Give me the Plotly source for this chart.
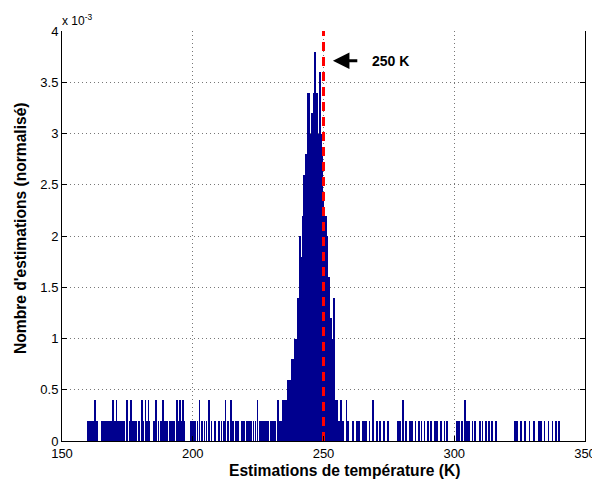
import plotly.graph_objects as go

# ---- data (y values in units of 1e-3, as displayed on the axis) ----
tail_low_x = [160.0, 160.5, 161.0, 161.6, 162.2, 162.8, 163.3,
              165.4, 165.9, 166.5, 167.0, 167.6, 168.3, 168.9, 170.2, 171.5, 172.3, 173.0, 173.8,
              176.1, 176.8, 177.6, 178.4, 179.3, 181.0, 182.5, 183.5,
              185.3, 186.9, 188.0, 189.4, 190.3, 191.2, 192.0, 192.9,
              194.4, 196.0, 196.8, 199.3, 200.1, 201.0, 201.8,
              203.4, 204.5, 205.3, 207.2, 208.4, 210.1, 211.0, 212.0, 213.4, 215.3, 216.5, 217.4,
              218.7, 219.6, 220.8, 221.6, 222.4, 223.2, 224.0, 225.6, 226.5, 227.3, 228.0,
              228.9, 229.8, 230.7, 231.5, 233.2,
              256.0, 257.6, 259.5, 261.3, 262.8, 263.6, 264.9, 265.5, 266.3, 267.6,
              270.4, 271.7, 273.0, 274.8, 278.4, 279.2, 281.5, 283.0, 283.8, 285.2, 286.4,
              287.5, 288.6, 290.0, 291.2, 292.6, 293.5, 295.0, 296.3, 297.1,
              301.0, 301.8, 302.9, 304.9, 305.7, 307.0, 308.0, 309.7, 310.8, 312.0, 313.2,
              314.5, 316.0, 323.2, 323.9, 325.6, 327.0, 328.8, 330.5, 332.4, 333.3, 334.5,
              336.0, 337.6, 339.0, 340.2]
tail_low_y = [0.2] * len(tail_low_x)

tail_high_x = [162.5, 169.4, 170.8, 174.8, 176.5, 180.5, 181.9, 183.1, 186.0, 188.6,
               193.9, 195.1, 196.4, 202.6, 206.1, 212.5, 214.5, 224.8, 232.5, 234.4,
               256.8, 258.8, 268.9, 280.4, 304.1]
tail_high_y = [0.4] * len(tail_high_x)

peak_x = [233.8, 234.2, 234.6, 235.0, 235.4, 235.8, 236.2, 236.6, 237.0, 237.4,
          237.8, 238.2, 238.6, 239.0, 239.4, 239.8, 240.2, 240.6, 241.0, 241.4,
          241.8, 242.2, 242.6, 243.0, 243.4, 243.8, 244.2, 244.6, 245.0, 245.4,
          245.8, 246.2, 246.6, 247.0, 247.4, 247.8, 248.2, 248.6, 249.0, 249.4,
          249.8, 250.2, 250.6, 251.0, 251.4, 251.8, 252.2, 252.6, 253.0, 253.4,
          253.8, 254.2, 254.6, 255.0, 255.4]
peak_y = [0.2, 0.2, 0.2, 0.2, 0.4, 0.4, 0.4, 0.6, 0.6, 0.6,
          0.8, 0.8, 0.8, 1.0, 1.0, 1.0, 1.4, 1.4, 2.0, 1.8,
          1.6, 2.2, 2.6, 2.6, 2.8, 2.8, 3.4, 3.4, 2.8, 3.0,
          3.2, 3.4, 3.8, 3.2, 3.4, 2.8, 3.0, 3.6, 3.0, 2.8,
          2.4, 2.2, 2.2, 2.2, 2.0, 1.6, 1.6, 1.2, 1.2, 1.0,
          0.6, 1.4, 0.4, 0.4, 0.2]

true_temp = 250
x_ticks = [150, 200, 250, 300, 350]
y_ticks = [0, 0.5, 1, 1.5, 2, 2.5, 3, 3.5, 4]
y_ticklabels = ["0", "0.5", "1", "1.5", "2", "2.5", "3", "3.5", "4"]

BAR = "#00008F"
FONT = "Arial, Liberation Sans, sans-serif"

fig = go.Figure()
fig.add_trace(go.Bar(x=tail_low_x, y=tail_low_y, width=0.3, marker=dict(color=BAR, line=dict(width=0)),
                     showlegend=False, hoverinfo="skip"))
fig.add_trace(go.Bar(x=tail_high_x, y=tail_high_y, width=0.3, marker=dict(color=BAR, line=dict(width=0)),
                     showlegend=False, hoverinfo="skip"))
fig.add_trace(go.Bar(x=peak_x, y=peak_y, width=0.42, marker=dict(color=BAR, line=dict(width=0)),
                     showlegend=False, hoverinfo="skip"))
fig.add_trace(go.Scatter(x=[true_temp, true_temp], y=[0, 4], mode="lines",
                         line=dict(color="#FF0000", width=3, dash="9px,6px"),
                         showlegend=False, hoverinfo="skip"))

fig.add_annotation(x=253.6, y=3.71, ax=263.5, ay=3.71, axref="x", ayref="y", xref="x", yref="y",
                   text="", showarrow=True, arrowhead=2, arrowsize=1.1, arrowwidth=3, arrowcolor="black")
fig.add_annotation(x=275.8, y=3.71, xref="x", yref="y", text="<b>250 K</b>", showarrow=False,
                   font=dict(family=FONT, size=14, color="black"))
fig.add_annotation(x=0, y=1, xref="paper", yref="paper", xanchor="left", yanchor="bottom",
                   xshift=-2, yshift=1, text="x 10<sup>-3</sup>", showarrow=False,
                   font=dict(family=FONT, size=12, color="black"))
# axis titles
fig.add_annotation(x=0.5, y=0, xref="paper", yref="paper", xanchor="center", yanchor="top",
                   xshift=21, yshift=-19, text="<b>Estimations de température (K)</b>", showarrow=False,
                   font=dict(family=FONT, size=15.6, color="black"))
fig.add_annotation(x=0, y=0.5, xref="paper", yref="paper", xanchor="center", yanchor="middle",
                   xshift=-42, yshift=8, textangle=-90, text="<b>Nombre d'estimations (normalisé)</b>",
                   showarrow=False, font=dict(family=FONT, size=15.6, color="black"))

fig.update_layout(
    width=592, height=483,
    margin=dict(l=62, r=7, t=31, b=42, autoexpand=False),
    paper_bgcolor="white", plot_bgcolor="white",
    barmode="overlay", bargap=0,
    font=dict(family=FONT, size=12, color="black"),
)
fig.update_xaxes(range=[150, 350], tickvals=x_ticks, ticks="inside", ticklen=5, tickcolor="black",
                 showline=True, linecolor="black", linewidth=1, mirror=False, automargin=False,
                 tickfont=dict(size=13), ticklabeloverflow="allow",
                 showgrid=True, gridcolor="#777777", griddash="1px,3px", gridwidth=1, zeroline=False)
fig.update_yaxes(range=[0, 4], tickvals=y_ticks, ticktext=y_ticklabels, ticks="inside", ticklen=5,
                 tickcolor="black", showline=True, linecolor="black", linewidth=1, mirror="ticks",
                 automargin=False, tickfont=dict(size=13), ticklabeloverflow="allow",
                 showgrid=True, gridcolor="#777777", griddash="1px,3px", gridwidth=1, zeroline=False)

fig.write_html("out.html", config={"displayModeBar": False},
               post_script="document.body.style.margin='0';document.body.style.overflow='hidden';")
